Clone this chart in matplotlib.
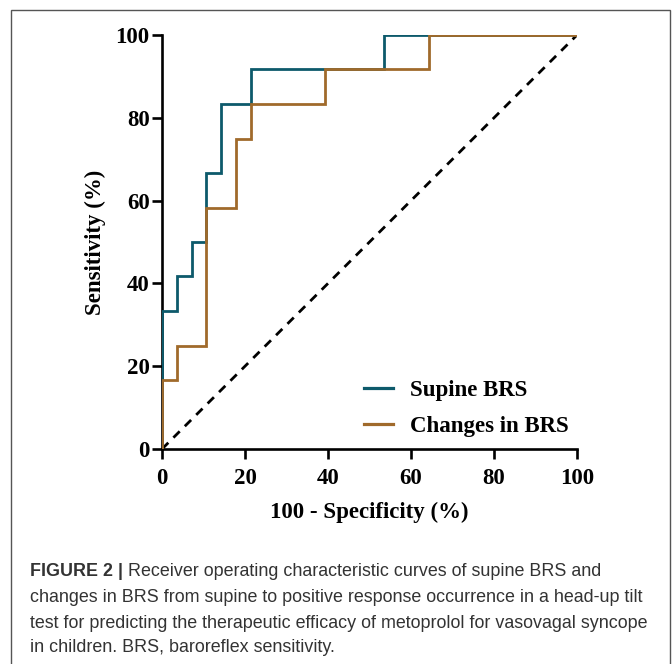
import matplotlib
matplotlib.use("Agg")
import matplotlib.pyplot as plt
from matplotlib.patches import Rectangle

# ---- data ----
supine_fpr = [0, 0, 3.57, 3.57, 7.14, 7.14, 10.71, 10.71, 14.29, 14.29, 21.43, 21.43, 53.57, 53.57, 100]
supine_tpr = [0, 33.33, 33.33, 41.67, 41.67, 50, 50, 66.67, 66.67, 83.33, 83.33, 91.67, 91.67, 100, 100]
change_fpr = [0, 0, 3.57, 3.57, 10.71, 10.71, 17.86, 17.86, 21.43, 21.43, 39.29, 39.29, 64.29, 64.29, 100]
change_tpr = [0, 16.67, 16.67, 25, 25, 58.33, 58.33, 75, 75, 83.33, 83.33, 91.67, 91.67, 100, 100]
ref_line = [0, 100]
ticks = [0, 20, 40, 60, 80, 100]
series_labels = ["Supine BRS", "Changes in BRS"]
caption_bold = "FIGURE 2 |"
caption_lines = [
    " Receiver operating characteristic curves of supine BRS and",
    "changes in BRS from supine to positive response occurrence in a head-up tilt",
    "test for predicting the therapeutic efficacy of metoprolol for vasovagal syncope",
    "in children. BRS, baroreflex sensitivity.",
]

serif = "Liberation Serif"
cap_font = "Liberation Sans"

W, H = 672, 664
fig = plt.figure(figsize=(W / 100, H / 100), dpi=100)
fig.patch.set_facecolor("white")

# outer frame
fig.add_artist(Rectangle((10.5 / W, -0.01), (670 - 10.5) / W, 1 - 9.5 / H + 0.01,
                         transform=fig.transFigure, fill=False, edgecolor="#555555", lw=1.0))

ax = fig.add_axes([162 / W, 1 - 449 / H, (577 - 162) / W, (449 - 35) / H])
teal = "#0d5a6b"
brown = "#a06a2b"
ax.plot(ref_line, ref_line, color="black", lw=2.0, dashes=(3.2, 2.6), zorder=3)
l1, = ax.plot(supine_fpr, supine_tpr, color=teal, lw=2.0, zorder=4, solid_joinstyle="miter")
l2, = ax.plot(change_fpr, change_tpr, color=brown, lw=2.0, zorder=5, solid_joinstyle="miter")

FS = 16.5
ax.set_xlim(0, 100)
ax.set_ylim(0, 100)
ax.set_xticks(ticks)
ax.set_yticks(ticks)
ax.set_xticklabels([str(t) for t in ticks])
ax.set_yticklabels([str(t) for t in ticks])
for s in ["top", "right"]:
    ax.spines[s].set_visible(False)
for s in ["left", "bottom"]:
    ax.spines[s].set_linewidth(1.9)
ax.tick_params(axis="both", direction="out", length=7, width=1.9)
ax.tick_params(axis="x", pad=7)
ax.tick_params(axis="y", pad=2)
for lab in ax.get_xticklabels() + ax.get_yticklabels():
    lab.set_fontfamily(serif)
    lab.set_fontweight("bold")
    lab.set_fontsize(FS)
ax.set_xlabel("100 - Specificity (%)", fontfamily=serif, fontweight="bold", fontsize=FS, labelpad=9)
ax.set_ylabel("Sensitivity (%)", fontfamily=serif, fontweight="bold", fontsize=FS, labelpad=7)

leg = ax.legend([l1, l2], series_labels, loc="center left", bbox_to_anchor=(0.487, 0.098),
                frameon=False, prop={"family": serif, "weight": "bold", "size": FS},
                handlelength=1.27, handletextpad=0.74, labelspacing=0.68, borderpad=0,
                borderaxespad=0)
for h in leg.get_lines():
    h.set_linewidth(2.3)

# caption
cap_color = "#333333"
x0 = 30 / W
y_lines = [572, 598, 623, 648]
CFS = 12.9
t = fig.text(x0, 1 - y_lines[0] / H, caption_bold, fontfamily=cap_font, fontweight="bold",
             fontsize=CFS, color=cap_color, va="center")
fig.canvas.draw()
bb = t.get_window_extent()
fig.text(bb.x1 / W, 1 - y_lines[0] / H, caption_lines[0], fontfamily=cap_font,
         fontsize=CFS, color=cap_color, va="center")
for yl, line in zip(y_lines[1:], caption_lines[1:]):
    fig.text(x0, 1 - yl / H, line, fontfamily=cap_font, fontsize=CFS, color=cap_color, va="center")

fig.savefig("out.png", dpi=100)
